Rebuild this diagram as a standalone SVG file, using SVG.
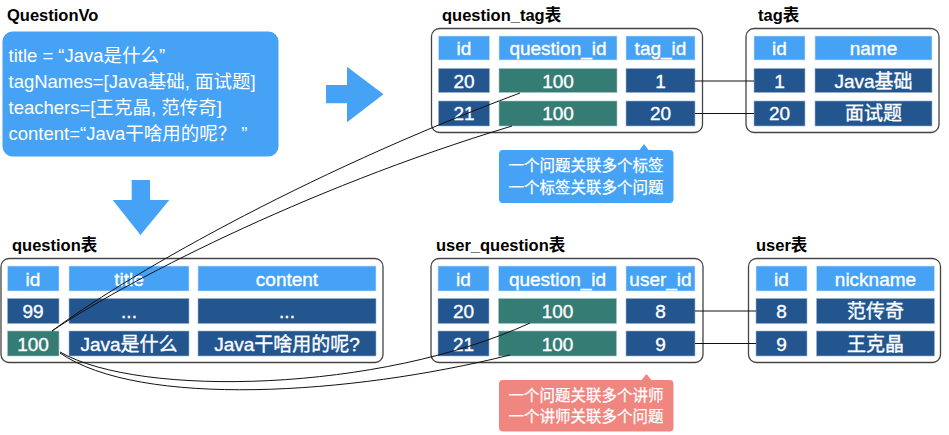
<svg xmlns="http://www.w3.org/2000/svg" width="949" height="435" viewBox="0 0 949 435">
<style>
text{font-family:"Liberation Sans","Noto Sans CJK SC",sans-serif;}
.ttl{font-size:16.5px;font-weight:bold;fill:#000;}
.vo{font-size:18.5px;fill:#fff;}
.c{font-size:19px;fill:#fff;text-anchor:middle;stroke:#fff;stroke-width:0.35;}
.cb{font-size:15.5px;fill:#fff;text-anchor:middle;stroke:#fff;stroke-width:0.25;}
.box{fill:#fff;stroke:#444;stroke-width:1.3;}
.h{fill:#46A2F5;stroke:#cfe4f7;stroke-width:0.6;}
.d{fill:#23558F;stroke:#9fb4cc;stroke-width:0.6;}
.t{fill:#357C74;stroke:#a4c6c1;stroke-width:0.6;}
.arw{fill:#46A2F5;}
.ln{fill:none;stroke:#111;stroke-width:1;}
</style>

<g id="questionVo">
<text class="ttl" x="7" y="21">QuestionVo</text>
<rect x="2.5" y="31.5" width="276" height="125" rx="10" fill="#46A2F5"/>
<text class="vo" x="8.5" y="61.5">title = “Java是什么”</text>
<text class="vo" x="8.5" y="88">tagNames=[Java基础, 面试题]</text>
<text class="vo" x="8.5" y="113.5">teachers=[王克晶, 范传奇]</text>
<text class="vo" x="8.5" y="140">content=“Java干啥用的呢？ ”</text>
</g>

<g id="arrow-right"><polygon class="arw" points="326,85 347,85 347,66.7 383.5,94.3 347,122.3 347,103.3 326,103.3"/></g>
<g id="arrow-down"><polygon class="arw" points="131.7,180 150,180 150,200 169.3,200 140.5,235 112.7,200 131.7,200"/></g>

<g id="question_tag">
<text class="ttl" x="442" y="21">question_tag表</text>
<rect class="box" x="431.5" y="28.5" width="271" height="104" rx="8"/>
<rect class="h" x="438.5" y="36" width="51" height="24"/>
<rect class="h" x="499" y="36" width="118" height="24"/>
<rect class="h" x="626" y="36" width="69" height="24"/>
<rect class="d" x="438.5" y="68.5" width="51" height="24"/>
<rect class="t" x="499" y="68.5" width="118" height="24"/>
<rect class="d" x="626" y="68.5" width="69" height="24"/>
<rect class="d" x="438.5" y="101" width="51" height="25"/>
<rect class="t" x="499" y="101" width="118" height="25"/>
<rect class="d" x="626" y="101" width="69" height="25"/>
<text class="c" x="464" y="55">id</text>
<text class="c" x="558" y="55">question_id</text>
<text class="c" x="660.5" y="55">tag_id</text>
<text class="c" x="464" y="87.5">20</text>
<text class="c" x="558" y="87.5">100</text>
<text class="c" x="660.5" y="87.5">1</text>
<text class="c" x="464" y="120">21</text>
<text class="c" x="558" y="120">100</text>
<text class="c" x="660.5" y="120">20</text>
</g>

<g id="tag">
<text class="ttl" x="758" y="21">tag表</text>
<rect class="box" x="746" y="28.5" width="193" height="104" rx="8"/>
<rect class="h" x="754" y="36" width="51" height="24"/>
<rect class="h" x="815" y="36" width="117" height="24"/>
<rect class="d" x="754" y="68.5" width="51" height="24"/>
<rect class="d" x="815" y="68.5" width="117" height="24"/>
<rect class="d" x="754" y="101" width="51" height="25"/>
<rect class="d" x="815" y="101" width="117" height="25"/>
<text class="c" x="779.5" y="55">id</text>
<text class="c" x="873.5" y="55">name</text>
<text class="c" x="779.5" y="87.5">1</text>
<text class="c" x="873.5" y="87.5">Java基础</text>
<text class="c" x="779.5" y="120">20</text>
<text class="c" x="873.5" y="120">面试题</text>
</g>

<g id="question">
<text class="ttl" x="12" y="251">question表</text>
<rect class="box" x="1" y="258.5" width="382" height="104" rx="8"/>
<rect class="h" x="7.5" y="266" width="51.5" height="25"/>
<rect class="h" x="69" y="266" width="120" height="25"/>
<rect class="h" x="198" y="266" width="178" height="25"/>
<rect class="d" x="7.5" y="298.5" width="51.5" height="25"/>
<rect class="d" x="69" y="298.5" width="120" height="25"/>
<rect class="d" x="198" y="298.5" width="178" height="25"/>
<rect class="t" x="7.5" y="331" width="51.5" height="25"/>
<rect class="d" x="69" y="331" width="120" height="25"/>
<rect class="d" x="198" y="331" width="178" height="25"/>
<text class="c" x="33" y="285.5">id</text>
<text class="c" x="129" y="285.5">title</text>
<text class="c" x="287" y="285.5">content</text>
<text class="c" x="33" y="318">99</text>
<text class="c" x="129" y="318">...</text>
<text class="c" x="287" y="318">...</text>
<text class="c" x="33" y="350.5">100</text>
<text class="c" x="129" y="350.5">Java是什么</text>
<text class="c" x="287" y="350.5">Java干啥用的呢?</text>
</g>

<g id="user_question">
<text class="ttl" x="436" y="251">user_question表</text>
<rect class="box" x="431" y="258.5" width="272" height="104" rx="8"/>
<rect class="h" x="438" y="266" width="51" height="25"/>
<rect class="h" x="498.5" y="266" width="118" height="25"/>
<rect class="h" x="626" y="266" width="69" height="25"/>
<rect class="d" x="438" y="298.5" width="51" height="25"/>
<rect class="t" x="498.5" y="298.5" width="118" height="25"/>
<rect class="d" x="626" y="298.5" width="69" height="25"/>
<rect class="d" x="438" y="331" width="51" height="25"/>
<rect class="t" x="498.5" y="331" width="118" height="25"/>
<rect class="d" x="626" y="331" width="69" height="25"/>
<text class="c" x="463.5" y="285.5">id</text>
<text class="c" x="557.5" y="285.5">question_id</text>
<text class="c" x="660.5" y="285.5">user_id</text>
<text class="c" x="463.5" y="318">20</text>
<text class="c" x="557.5" y="318">100</text>
<text class="c" x="660.5" y="318">8</text>
<text class="c" x="463.5" y="350.5">21</text>
<text class="c" x="557.5" y="350.5">100</text>
<text class="c" x="660.5" y="350.5">9</text>
</g>

<g id="user">
<text class="ttl" x="756" y="251">user表</text>
<rect class="box" x="748.5" y="258.5" width="192" height="104" rx="8"/>
<rect class="h" x="756" y="266" width="51" height="25"/>
<rect class="h" x="816.5" y="266" width="118" height="25"/>
<rect class="d" x="756" y="298.5" width="51" height="25"/>
<rect class="d" x="816.5" y="298.5" width="118" height="25"/>
<rect class="d" x="756" y="331" width="51" height="25"/>
<rect class="d" x="816.5" y="331" width="118" height="25"/>
<text class="c" x="781.5" y="285.5">id</text>
<text class="c" x="875.5" y="285.5">nickname</text>
<text class="c" x="781.5" y="318">8</text>
<text class="c" x="875.5" y="318">范传奇</text>
<text class="c" x="781.5" y="350.5">9</text>
<text class="c" x="875.5" y="350.5">王克晶</text>
</g>

<g id="note-tag">
<path d="M503,150 H639.5 L644,144 L648.5,150 H669.5 Q673.5,150 673.5,154 V199 Q673.5,203 669.5,203 H503 Q499,203 499,199 V154 Q499,150 503,150 Z" fill="#46A2F5"/>
<text class="cb" x="586" y="170.5">一个问题关联多个标签</text>
<text class="cb" x="586" y="192.5">一个标签关联多个问题</text>
</g>

<g id="note-teacher">
<path d="M503,380 H641.5 L646.5,374 L651.5,380 H669.5 Q673.5,380 673.5,384 V427.5 Q673.5,431.5 669.5,431.5 H503 Q499,431.5 499,427.5 V384 Q499,380 503,380 Z" fill="#F08680"/>
<text class="cb" x="586" y="400.5">一个问题关联多个讲师</text>
<text class="cb" x="586" y="422">一个讲师关联多个问题</text>
</g>

<g id="connectors">
<path class="ln" d="M52,331 C120,280 300,175 520,93"/>
<path class="ln" d="M52,331 C120,285 300,190 512,126"/>
<path class="ln" d="M60,352 C140,398 380,392 530,323"/>
<path class="ln" d="M60,353 C140,408 350,395 510,355"/>
<line class="ln" x1="695" y1="81" x2="754" y2="81"/>
<line class="ln" x1="695" y1="113.5" x2="754" y2="113.5"/>
<line class="ln" x1="695" y1="311" x2="756" y2="311"/>
<line class="ln" x1="695" y1="343.5" x2="756" y2="343.5"/>
</g>
</svg>
